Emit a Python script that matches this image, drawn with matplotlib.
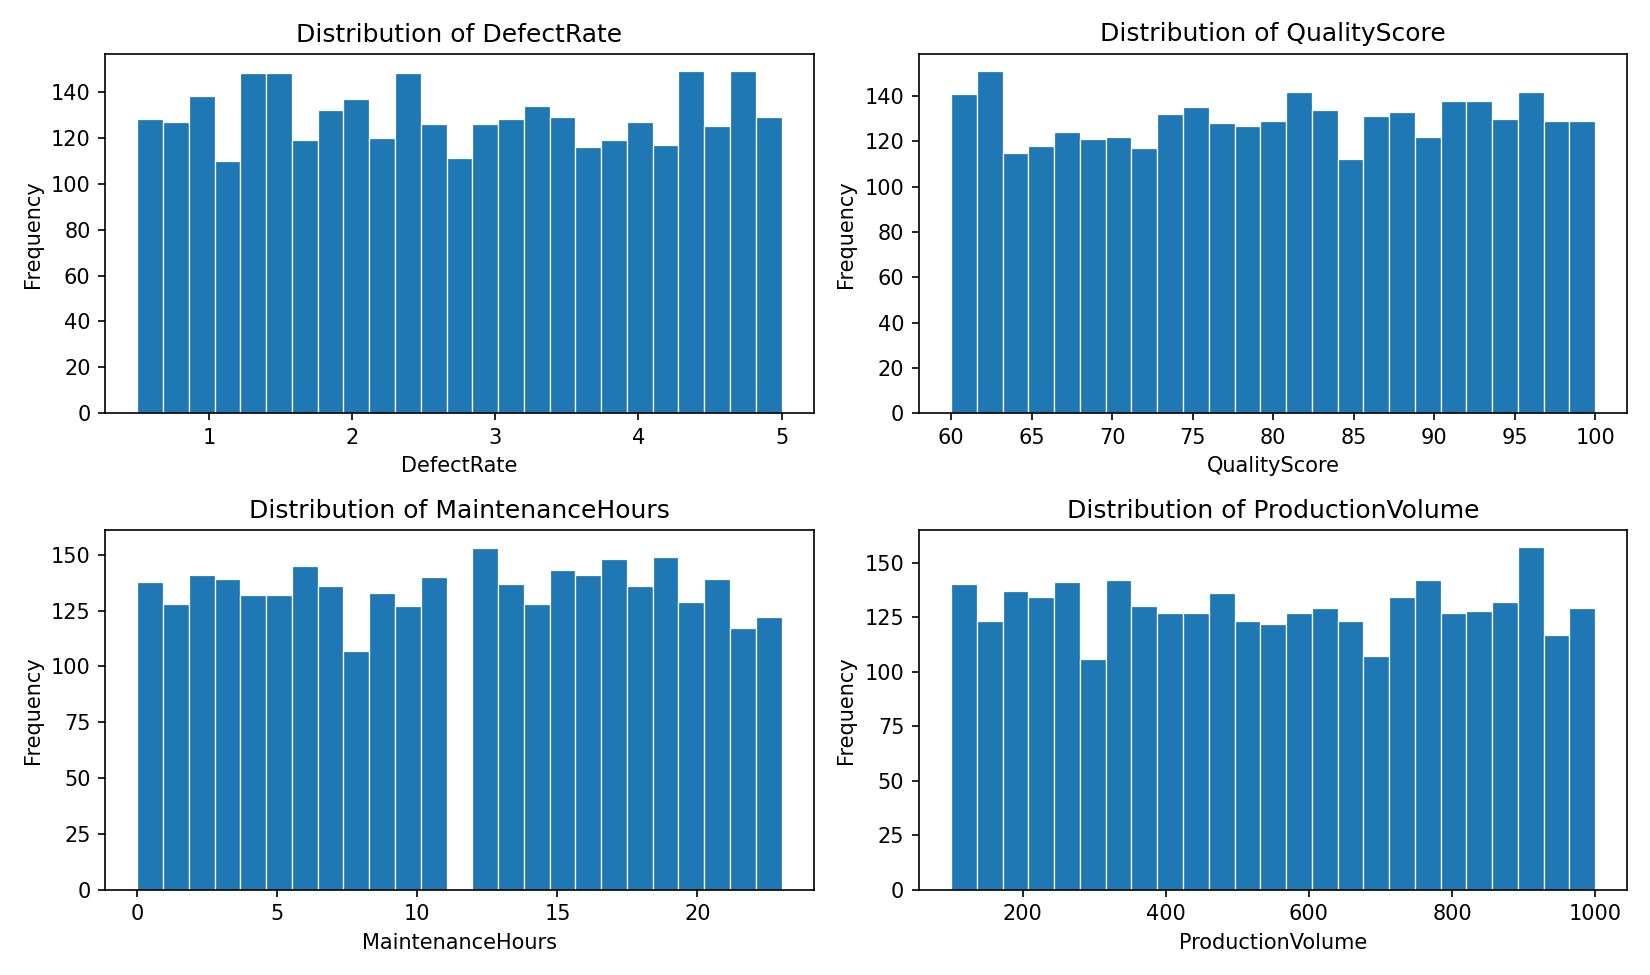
import numpy as np
import matplotlib
matplotlib.use("Agg")
import matplotlib.pyplot as plt
from matplotlib.ticker import MultipleLocator

# histogram counts (25 bins each)
defect_range = (0.5, 5.0)
defect_counts = [128, 127, 138, 110, 148, 148, 119, 132, 137, 120, 148, 126, 111,
                 126, 128, 134, 129, 116, 119, 127, 117, 149, 125, 149, 129]

quality_range = (60, 100)
quality_counts = [141, 151, 115, 118, 124, 121, 122, 117, 132, 135, 128, 127, 129,
                  142, 134, 112, 131, 133, 122, 138, 138, 130, 142, 129, 129]

maint_range = (0, 23)
maint_counts = [138, 128, 141, 139, 132, 132, 145, 136, 107, 133, 127, 140, 0,
                153, 137, 128, 143, 141, 148, 136, 149, 129, 139, 117, 122]

volume_range = (100, 1000)
volume_counts = [140, 123, 137, 134, 141, 106, 142, 130, 127, 127, 136, 123, 122,
                 127, 129, 123, 107, 134, 142, 127, 128, 132, 157, 117, 129]

panels = [
    ("DefectRate", defect_range, defect_counts),
    ("QualityScore", quality_range, quality_counts),
    ("MaintenanceHours", maint_range, maint_counts),
    ("ProductionVolume", volume_range, volume_counts),
]

fig, axes = plt.subplots(2, 2, figsize=(11, 6.5), dpi=150)

for ax, (name, rng, counts) in zip(axes.flat, panels):
    edges = np.linspace(rng[0], rng[1], len(counts) + 1)
    ax.hist(edges[:-1], bins=edges, weights=counts, color='#1f77b4', edgecolor='white', linewidth=0.6)
    ax.set_title(f"Distribution of {name}")
    ax.set_xlabel(name)
    ax.set_ylabel("Frequency")

axes[1, 0].yaxis.set_major_locator(MultipleLocator(25))
axes[1, 0].set_ylim(0, 161)

plt.tight_layout()
plt.savefig("out.png", dpi=150)
